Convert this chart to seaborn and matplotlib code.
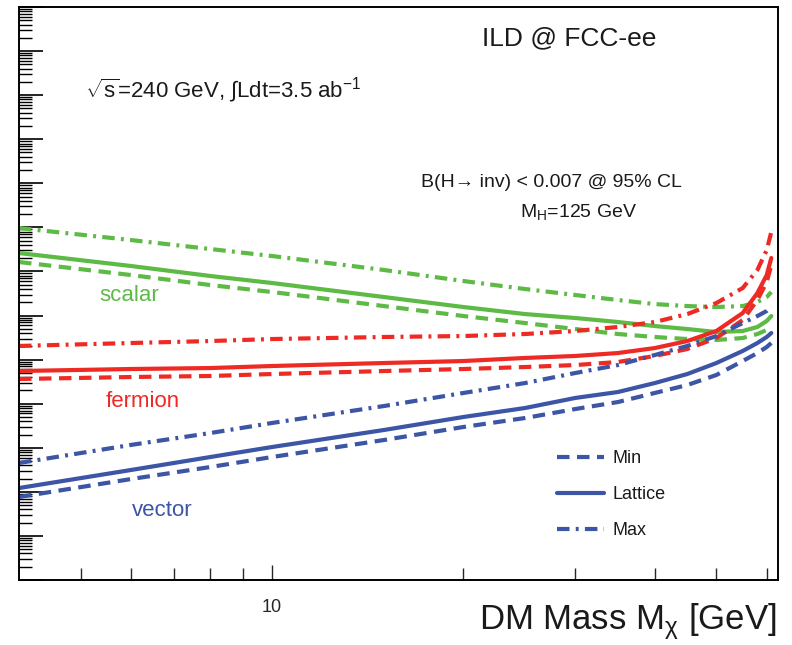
import numpy as np
import pandas as pd
import matplotlib
matplotlib.use("Agg")
import matplotlib.pyplot as plt
from matplotlib.lines import Line2D
from matplotlib.ticker import LogLocator, NullFormatter, FixedLocator, FixedFormatter
import seaborn as sns

# DM mass [GeV]
mass = [4, 6, 8, 10, 15, 20, 25, 30, 35, 40, 45, 50, 55, 58, 60, 61]

# cross sections (arbitrary log scale)
scalar_max = [9.66e-43, 5.16e-43, 3.23e-43, 2.24e-43, 1.08e-43, 6.07e-44, 4.00e-44, 2.92e-44,
              2.25e-44, 1.82e-44, 1.64e-44, 1.56e-44, 1.64e-44, 2.03e-44, 2.63e-44, 3.42e-44]
scalar_lat = [2.62e-43, 1.33e-43, 7.89e-44, 5.47e-44, 2.63e-44, 1.56e-44, 1.08e-44, 8.79e-45,
              7.13e-45, 5.78e-45, 4.94e-45, 4.23e-45, 4.46e-45, 5.50e-45, 7.52e-45, 9.75e-45]
scalar_min = [1.64e-43, 8.30e-44, 4.92e-44, 3.42e-44, 1.64e-44, 9.75e-45, 6.76e-45, 4.94e-45,
              3.81e-45, 3.26e-45, 2.93e-45, 2.79e-45, 3.09e-45, 3.81e-45, 4.70e-45, 5.78e-45]
fermion_max = [2.04e-45, 2.38e-45, 2.64e-45, 2.93e-45, 3.26e-45, 3.43e-45, 3.81e-45, 4.46e-45,
               5.50e-45, 7.13e-45, 1.08e-44, 1.92e-44, 4.21e-44, 1.08e-43, 3.06e-43, 7.85e-43]
fermion_lat = [5.51e-46, 6.12e-46, 6.44e-46, 7.16e-46, 8.37e-46, 9.29e-46, 1.09e-45, 1.21e-45,
               1.41e-45, 1.83e-45, 2.64e-45, 4.46e-45, 1.14e-44, 3.24e-44, 8.30e-44, 2.02e-43]
fermion_min = [3.63e-46, 4.03e-46, 4.25e-46, 4.71e-46, 5.51e-46, 6.12e-46, 6.79e-46, 7.53e-46,
               8.83e-46, 1.21e-45, 1.74e-45, 3.09e-45, 7.91e-45, 2.25e-44, 5.75e-44, 1.40e-43]
vector_max = [4.51e-48, 1.16e-47, 2.16e-47, 3.65e-47, 8.85e-47, 1.75e-46, 2.94e-46, 4.97e-46,
              7.53e-46, 1.27e-45, 2.04e-45, 3.43e-45, 6.76e-45, 9.75e-45, 1.27e-44, 1.64e-44]
vector_lat = [1.22e-48, 3.13e-48, 6.17e-48, 1.04e-47, 2.53e-47, 4.99e-47, 7.98e-47, 1.35e-46,
              1.84e-46, 2.94e-46, 4.71e-46, 8.37e-46, 1.57e-45, 2.38e-45, 3.26e-45, 4.01e-45]
vector_min = [7.64e-49, 1.95e-48, 3.66e-48, 6.17e-48, 1.50e-47, 2.96e-47, 4.73e-47, 7.57e-47,
              1.09e-46, 1.75e-46, 2.65e-46, 4.48e-46, 9.29e-46, 1.41e-45, 1.93e-45, 2.38e-45]

models = ["scalar", "fermion", "vector"]
bands = ["Min", "Lattice", "Max"]

series = {
    ("scalar", "Min"): scalar_min, ("scalar", "Lattice"): scalar_lat, ("scalar", "Max"): scalar_max,
    ("fermion", "Min"): fermion_min, ("fermion", "Lattice"): fermion_lat, ("fermion", "Max"): fermion_max,
    ("vector", "Min"): vector_min, ("vector", "Lattice"): vector_lat, ("vector", "Max"): vector_max,
}

rows = []
for (m, b), vals in series.items():
    for x, y in zip(mass, vals):
        rows.append({"mass": x, "sigma": y, "model": m, "band": b})
df = pd.DataFrame(rows)

palette = {"scalar": "#5dba45", "fermion": "#ee2a24", "vector": "#3c55a5"}
dashes = {"Min": (3.0, 1.8), "Lattice": "", "Max": (3.0, 1.5, 0.7, 1.5)}
LW = 3.0

sns.set_style("ticks")
plt.rcParams["font.family"] = ["Liberation Sans", "DejaVu Sans"]
plt.rcParams["mathtext.fontset"] = "custom"
plt.rcParams["mathtext.rm"] = "Liberation Sans"
plt.rcParams["mathtext.it"] = "Liberation Sans:italic"
plt.rcParams["mathtext.sf"] = "Liberation Sans"

fig = plt.figure(figsize=(7.92, 6.45), dpi=100)
ax = fig.add_axes([19 / 792, 1 - 580 / 645, (778 - 19) / 792, (580 - 7) / 645])

sns.lineplot(data=df, x="mass", y="sigma", hue="model", style="band",
             palette=palette, dashes=dashes, linewidth=LW, legend=False,
             estimator=None, sort=False, ax=ax)

ax.set_xscale("log")
ax.set_yscale("log")
ax.set_xlim(4.0, 62.5)
ax.set_ylim(1e-50, 1e-37)

# y ticks: decades with minor ticks, no labels
ax.yaxis.set_major_locator(LogLocator(base=10, numticks=40))
ax.yaxis.set_minor_locator(LogLocator(base=10, subs=np.arange(2, 10), numticks=400))
ax.yaxis.set_major_formatter(NullFormatter())
ax.yaxis.set_minor_formatter(NullFormatter())
ax.tick_params(axis="y", which="major", direction="in", length=17, width=1.2, color="black")
ax.tick_params(axis="y", which="minor", direction="in", length=9, width=1.0, color="black")

# x ticks
ax.xaxis.set_major_locator(FixedLocator([10]))
ax.xaxis.set_major_formatter(FixedFormatter(["10"]))
ax.xaxis.set_minor_locator(FixedLocator([5, 6, 7, 8, 9, 20, 30, 40, 50, 60]))
ax.xaxis.set_minor_formatter(NullFormatter())
ax.tick_params(axis="x", which="both", direction="in", length=9, width=1.0, labelsize=13, pad=14)
ax.tick_params(axis="x", which="major", length=11)

for s in ax.spines.values():
    s.set_linewidth(1.4)
    s.set_color("black")

ax.set_ylabel("")
ax.set_xlabel("")
fig.text(776 / 792, 1 - 622 / 645, r"DM Mass M$_{\mathrm{\chi}}$ [GeV]", fontsize=25,
         ha="right", va="center", color="#1a1a1a")

# annotations
ax.text(0.725, 0.945, "ILD @ FCC-ee", transform=ax.transAxes, fontsize=19,
        ha="center", va="center", color="#1a1a1a")
ax.text(0.087, 0.855, r"$\sqrt{\mathrm{s}}$=240 GeV, $\int$Ldt=3.5 ab$^{-1}$", transform=ax.transAxes,
        fontsize=16, ha="left", va="center", color="#1a1a1a")
ax.text(0.702, 0.693, "B(H\u2192 inv) < 0.007 @ 95% CL", transform=ax.transAxes, fontsize=14,
        ha="center", va="center", color="#1a1a1a")
ax.text(0.737, 0.642, r"M$_{\mathrm{H}}$=125 GeV", transform=ax.transAxes, fontsize=14,
        ha="center", va="center", color="#1a1a1a")

ax.text(0.145, 0.497, "scalar", transform=ax.transAxes, fontsize=16, color=palette["scalar"],
        ha="center", va="center")
ax.text(0.163, 0.311, "fermion", transform=ax.transAxes, fontsize=16, color=palette["fermion"],
        ha="center", va="center")
ax.text(0.189, 0.122, "vector", transform=ax.transAxes, fontsize=16, color=palette["vector"],
        ha="center", va="center")

handles = [Line2D([0], [0], color=palette["vector"], lw=LW, dashes=dashes[b]) if b != "Lattice"
           else Line2D([0], [0], color=palette["vector"], lw=LW) for b in bands]
leg = ax.legend(handles, bands, loc="lower right", bbox_to_anchor=(0.874, 0.043), frameon=False,
                fontsize=13, handlelength=2.6, labelspacing=1.05, handletextpad=0.5)
for t in leg.get_texts():
    t.set_color("#1a1a1a")

fig.savefig("out.png", dpi=100)
